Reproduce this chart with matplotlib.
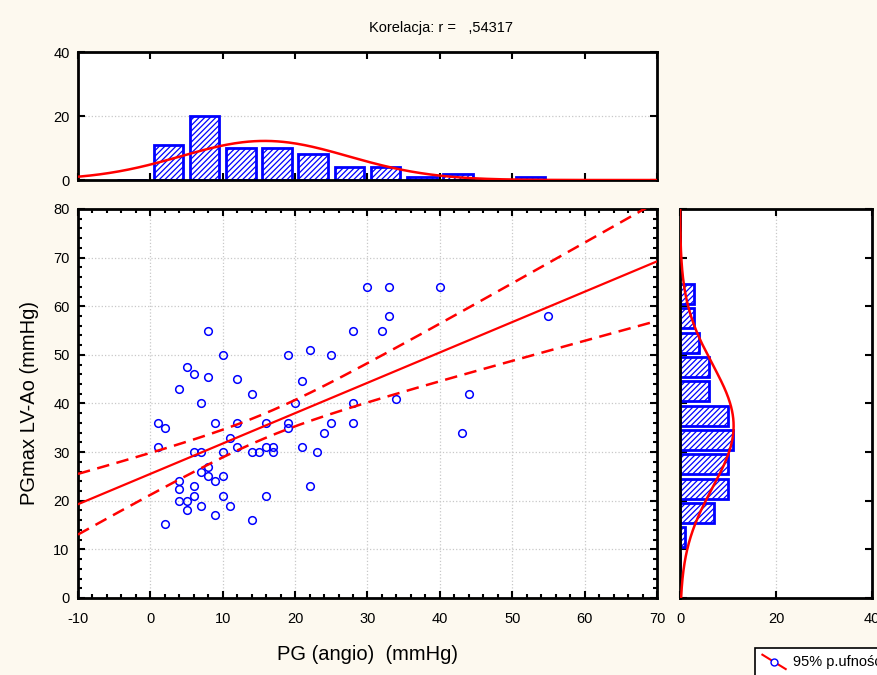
import matplotlib
matplotlib.use('Agg')
import matplotlib.pyplot as plt
import numpy as np
from matplotlib.ticker import MultipleLocator
from matplotlib.lines import Line2D
from matplotlib.legend_handler import HandlerBase

plt.rcParams['font.family'] = ['Liberation Sans', 'DejaVu Sans']
plt.rcParams['axes.unicode_minus'] = False
plt.rcParams['hatch.linewidth'] = 0.9
plt.rcParams['hatch.color'] = 'blue'

# scatter points
pg_angio = [30, 33, 40, 33, 32, 55, 34, 44, 43, 8, 10, 19, 22, 25, 28, 5, 6, 8, 12, 14,
            4, 21, 7, 20, 28, 1, 2, 9, 12, 16, 19, 19, 25, 28, 24, 11, 1, 12, 16, 17,
            17, 21, 6, 7, 10, 14, 15, 23, 8, 7, 8, 10, 9, 4, 4, 6, 6, 10, 16, 4,
            5, 7, 11, 5, 22, 9, 14, 2]
pgmax = [64, 64, 64, 58, 55, 58, 41, 42, 34, 55, 50, 50, 51, 50, 55, 47.6, 46, 45.5, 45, 42,
         43, 44.7, 40, 40, 40, 36, 35, 36, 36, 36, 36, 35, 36, 36, 34, 33, 31, 31, 31, 31,
         30, 31, 30, 30, 30, 30, 30, 30, 27, 26, 25, 25, 24, 24, 22.5, 23, 21, 21, 21, 20,
         20, 19, 19, 18, 23, 17, 16, 15.2]

# histogram counts (bins of 5)
top_edges = [-5, 0, 5, 10, 15, 20, 25, 30, 35, 40, 45, 50, 55, 60, 65]
top_counts = [0, 11, 20, 10, 10, 8, 4, 4, 1, 2, 0, 1, 0, 0, 0]
right_edges = [0, 5, 10, 15, 20, 25, 30, 35, 40, 45, 50, 55, 60, 65, 70, 75]
right_counts = [0, 0, 1, 7, 10, 10, 11, 10, 6, 6, 4, 3, 3, 0, 0, 0]

title = 'Korelacja: r =   ,54317'
xlabel = 'PG (angio)  (mmHg)'
ylabel = 'PGmax LV-Ao (mmHg)'
legend_label = '95% p.ufności'


class DiagHandler(HandlerBase):
    # red diagonal line with an open blue circle, like the legend key
    def create_artists(self, legend, orig, xd, yd, w, h, fontsize, trans):
        ln = Line2D([xd, xd + w], [yd + h + 1, yd - 2], color='red', lw=1.5, transform=trans)
        mk = Line2D([xd + w / 2], [yd + h / 2 - 0.5], marker='o', mfc='white', mec='blue',
                    mew=1, ms=5, transform=trans)
        return [ln, mk]


bg = '#fdf9ef'
fig = plt.figure(figsize=(8.78, 6.75), dpi=100, facecolor=bg)
ax = fig.add_axes([0.0888, 0.1141, 0.6595, 0.5763])
axt = fig.add_axes([0.0888, 0.7333, 0.6595, 0.1896])
axr = fig.add_axes([0.7745, 0.1141, 0.2187, 0.5763])

def style(a):
    for s in a.spines.values():
        s.set_linewidth(2)
    a.tick_params(direction='in', which='both', width=1.5, labelsize=10.5,
                  top=True, right=True)
    a.tick_params(which='major', length=5)
    a.tick_params(which='minor', length=3)
    a.tick_params(axis='x', pad=10)
    a.tick_params(axis='y', pad=6)

x = np.array(pg_angio, float)
y = np.array(pgmax, float)
n = len(x)

# main scatter
style(ax)
ax.set_xlim(-10, 70)
ax.set_ylim(0, 80)
ax.xaxis.set_major_locator(MultipleLocator(10))
ax.xaxis.set_minor_locator(MultipleLocator(2))
ax.yaxis.set_major_locator(MultipleLocator(10))
ax.yaxis.set_minor_locator(MultipleLocator(2))
ax.grid(True, which='major', color='#c8c8c8', ls=':', lw=0.9)
ax.set_axisbelow(True)
ax.plot(x, y, 'o', mfc='none', mec='blue', mew=1.1, ms=5.5, zorder=3)

slope, icpt = np.polyfit(x, y, 1)
xx = np.linspace(-10, 70, 200)
yy = icpt + slope * xx
resid = y - (icpt + slope * x)
s = np.sqrt(np.sum(resid ** 2) / (n - 2))
sxx = np.sum((x - x.mean()) ** 2)
half = 1.997 * s * np.sqrt(1.0 / n + (xx - x.mean()) ** 2 / sxx)
ax.plot(xx, yy, color='red', lw=1.6, zorder=4)
ax.plot(xx, yy + half, color='red', lw=1.8, ls=(0, (5, 3)), zorder=4)
ax.plot(xx, yy - half, color='red', lw=1.8, ls=(0, (5, 3)), zorder=4)
ax.set_xlabel(xlabel, fontsize=14.5, labelpad=14)
ax.set_ylabel(ylabel, fontsize=14.5, labelpad=10)

# top histogram
style(axt)
axt.set_xlim(-10, 70)
axt.set_ylim(0, 40)
axt.xaxis.set_major_locator(MultipleLocator(10))
axt.yaxis.set_major_locator(MultipleLocator(20))
axt.tick_params(labelbottom=False)
axt.grid(True, axis='y', color='#c8c8c8', ls=':', lw=0.9)
axt.set_axisbelow(True)
tl = np.array(top_edges, float)
axt.bar(tl + 2.5, top_counts, width=4.1, facecolor='white', edgecolor='blue',
        lw=2, hatch='//////', zorder=2)
gx = np.linspace(-10, 70, 300)
tot = sum(top_counts)
sdx = x.std(ddof=1)
gy = tot * 5 * np.exp(-0.5 * ((gx - x.mean()) / sdx) ** 2) / (sdx * np.sqrt(2 * np.pi))
axt.plot(gx, gy, color='red', lw=1.8, zorder=3)

# right histogram
style(axr)
axr.set_xlim(0, 40)
axr.set_ylim(0, 80)
axr.xaxis.set_major_locator(MultipleLocator(20))
axr.yaxis.set_major_locator(MultipleLocator(10))
axr.tick_params(labelleft=False)
axr.grid(True, axis='x', color='#c8c8c8', ls=':', lw=0.9)
axr.set_axisbelow(True)
rl = np.array(right_edges, float)
axr.barh(rl + 2.5, right_counts, height=4.1, facecolor='white', edgecolor='blue',
         lw=2, hatch='//////', zorder=2)
gyy = np.linspace(0, 80, 300)
tot_r = sum(right_counts)
sdy = y.std(ddof=1)
gxx = tot_r * 5 * np.exp(-0.5 * ((gyy - y.mean()) / sdy) ** 2) / (sdy * np.sqrt(2 * np.pi))
axr.plot(gxx, gyy, color='red', lw=1.8, zorder=3)

fig.text(0.502, 0.958, title, ha='center', va='center', fontsize=10.5)

h = Line2D([0], [0], color='red')
leg = fig.legend([h], [legend_label], loc='upper left', bbox_to_anchor=(0.86, 0.04),
                 frameon=True, fancybox=False, edgecolor='black', framealpha=1,
                 borderaxespad=0, fontsize=10.5, handlelength=1.6, handletextpad=0.5,
                 borderpad=0.5, handler_map={Line2D: DiagHandler()})
leg.get_frame().set_linewidth(1.2)

fig.savefig('out.png', dpi=100, facecolor=bg)
